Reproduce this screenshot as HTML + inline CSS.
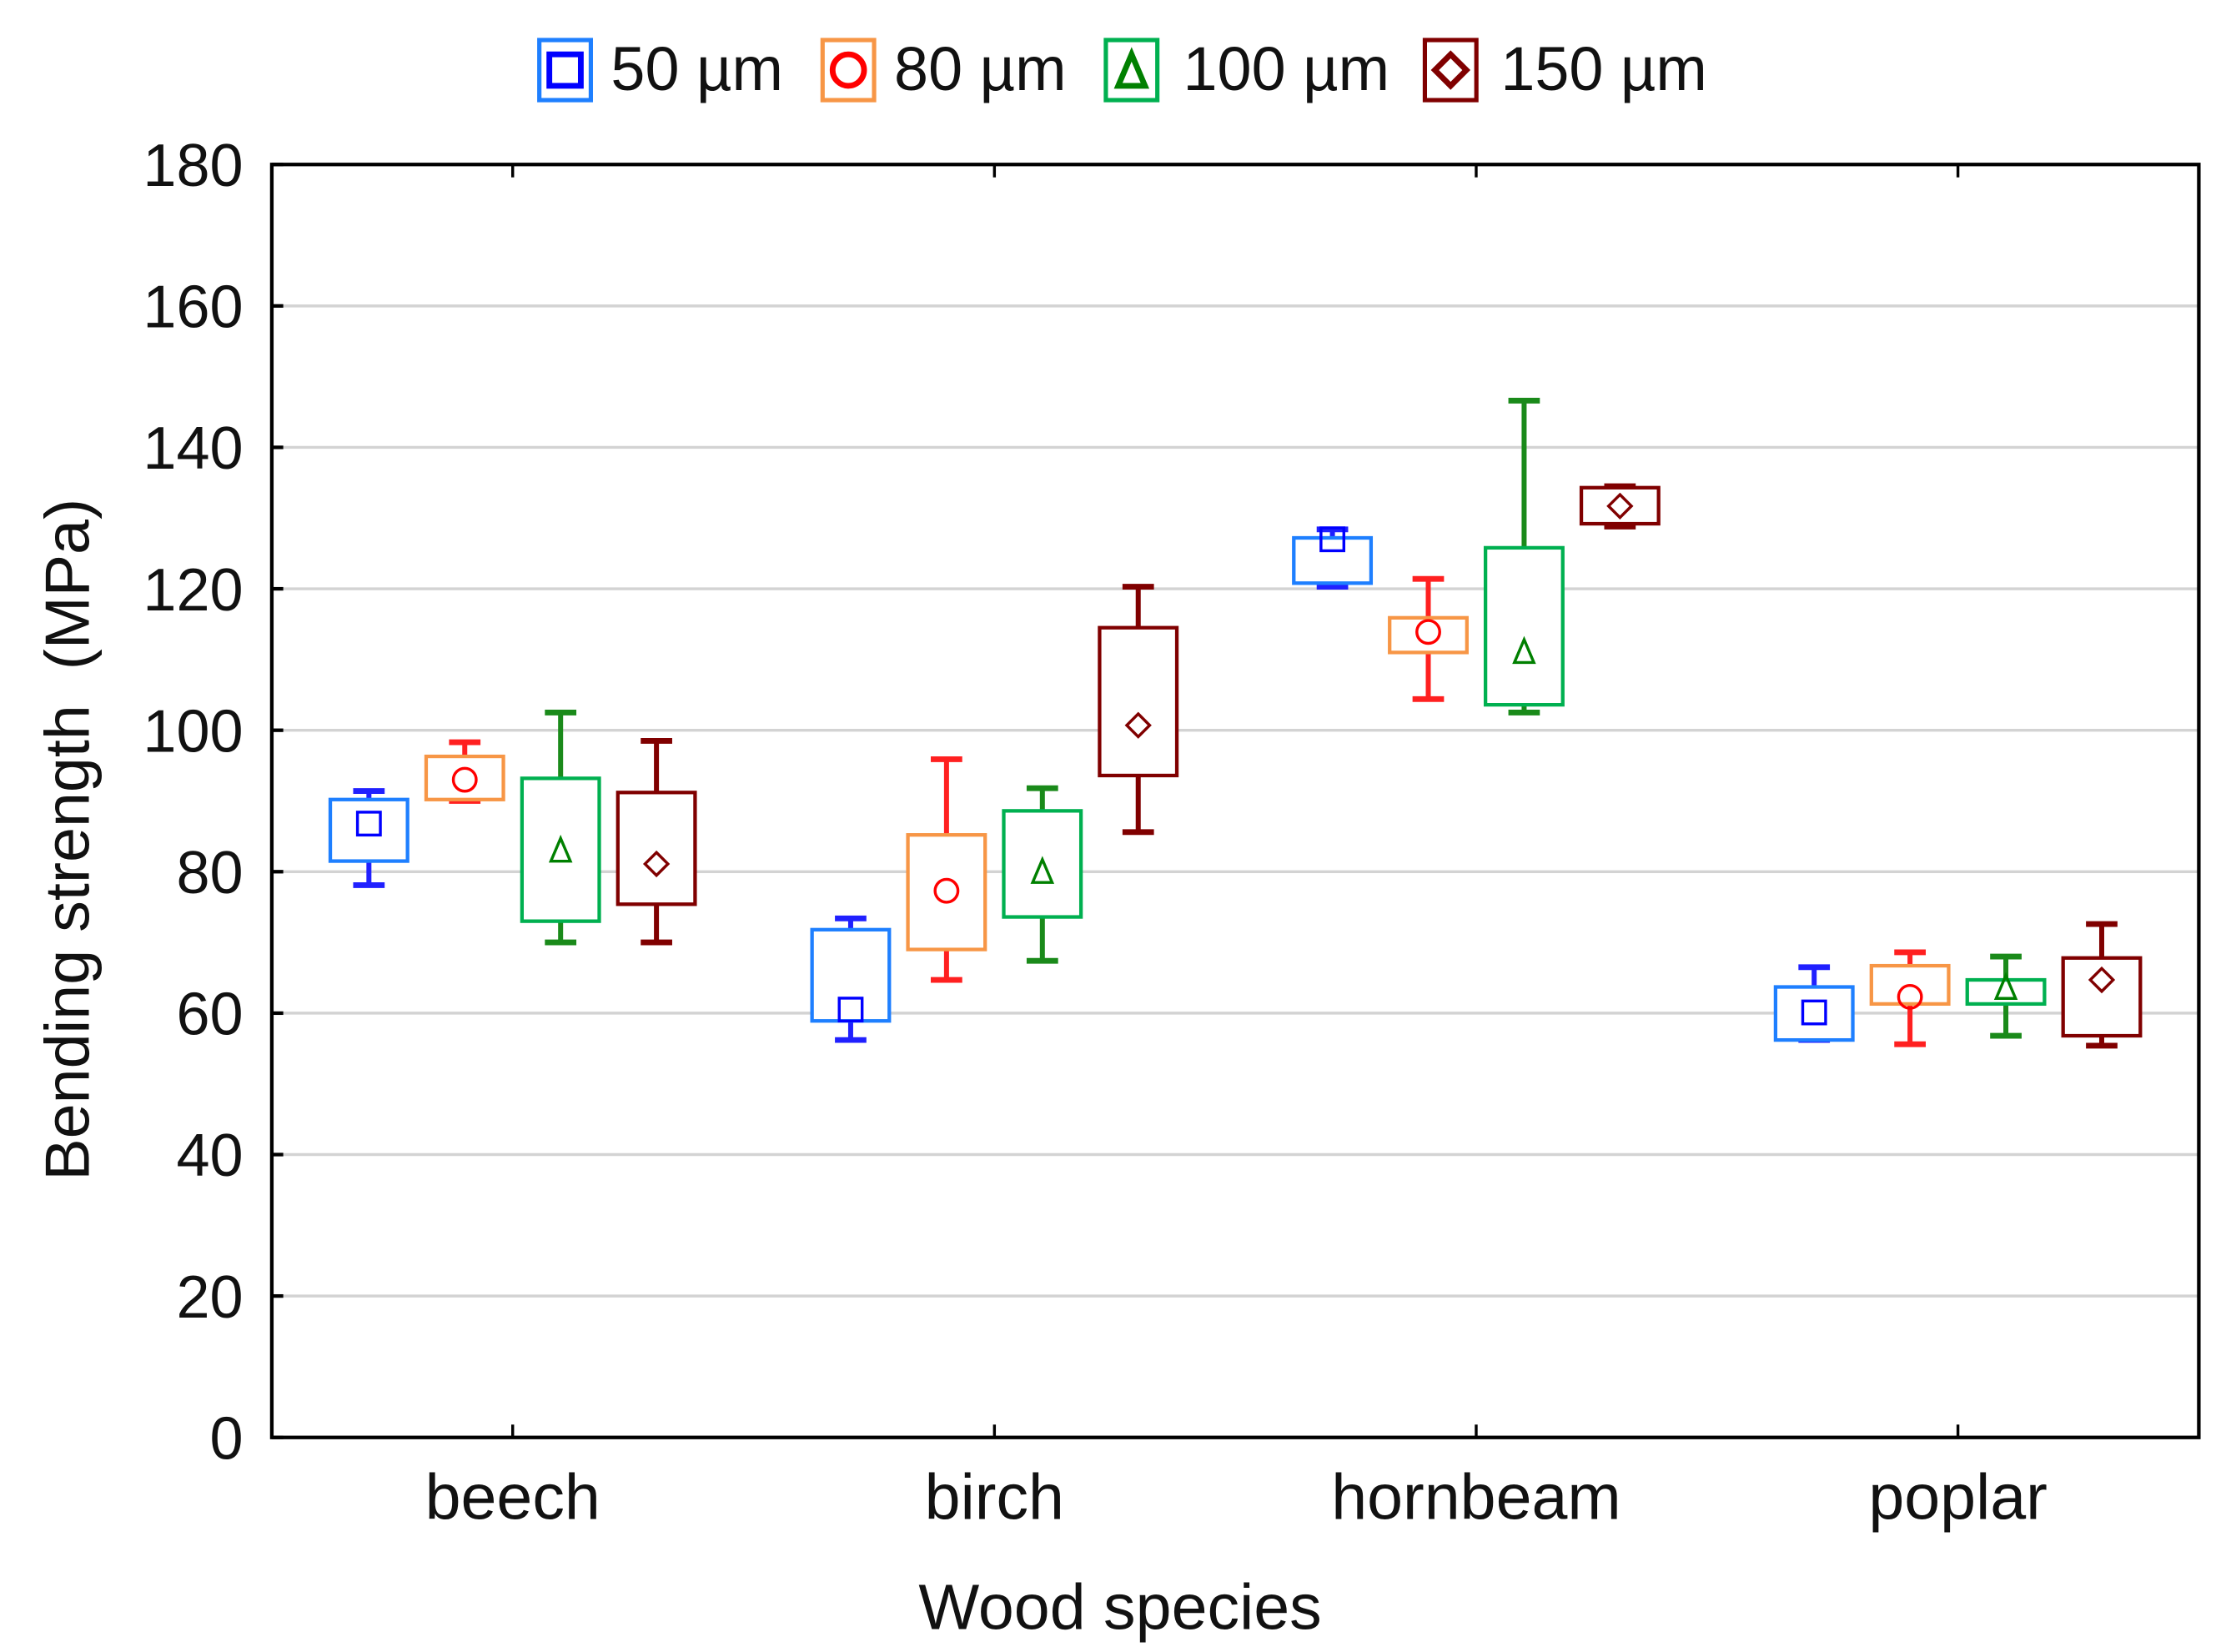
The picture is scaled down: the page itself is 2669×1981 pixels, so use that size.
<!DOCTYPE html>
<html><head><meta charset="utf-8"><style>
html,body{margin:0;padding:0;background:#fff;}
svg{display:block;font-family:"Liberation Sans",Arial,sans-serif;}
</style></head><body>
<svg id="chart" width="2669" height="1981" viewBox="0 0 1556 1155" preserveAspectRatio="none" xmlns="http://www.w3.org/2000/svg">
<g id="legend"></g>
<g id="grid"></g>
<g id="marks"></g>
<rect x="190" y="115" width="1347" height="890" fill="none" stroke="#000" stroke-width="2.5"/>
<g id="axes"></g>
<text x="783" y="1139" font-size="45" text-anchor="middle" fill="#111">Wood species</text>
<text transform="translate(62,587) rotate(-90)" font-size="44" text-anchor="middle" fill="#111" xml:space="preserve">Bending strength  (MPa)</text>
</svg>
<script>
const categories = ["beech","birch","hornbeam","poplar"];
const seriesNames = ["50 µm","80 µm","100 µm","150 µm"];
const yTicks = [0,20,40,60,80,100,120,140,160,180];
const whiskerHigh = [[91.4,73.4,128.4,66.5],[98.3,95.9,121.4,68.6],[102.5,91.8,146.6,68.0],[98.5,120.3,134.5,72.6]];
const whiskerLow  = [[78.1,56.2,120.3,56.2],[90.0,64.7,104.4,55.6],[70.0,67.4,102.5,56.8],[70.0,85.6,128.8,55.4]];
const boxHigh     = [[90.2,71.8,127.2,63.7],[96.3,85.2,115.9,66.7],[93.2,88.6,125.8,64.7],[91.2,114.5,134.3,67.8]];
const boxLow      = [[81.5,58.9,120.8,56.2],[90.2,69.0,111.0,61.3],[73.0,73.6,103.6,61.3],[75.4,93.6,129.2,56.8]];
const means       = [[86.8,60.5,127.0,60.1],[93.0,77.3,113.9,62.3],[83.1,80.1,111.2,63.7],[81.1,100.7,131.7,64.7]];

const boxColors = ["#1e7fff","#f79646","#00b050","#800000"];
const whiskColors = ["#2020ff","#ff2020","#1a8a1a","#800000"];
const markColors = ["#0000ff","#ff0000","#008000","#800000"];
const NS="http://www.w3.org/2000/svg";
const X0=190,X1=1537,Y0=1005,Y1=115;
function y(v){return Y0-(v-0)/(180-0)*(Y0-Y1);}
function xc(i){return X0+(X1-X0)*(i+0.5)/categories.length;}
function xs(i,s){return xc(i)+(s-1.5)*67;}
function mk(parent,tag,attrs){const e=document.createElementNS(NS,tag);for(const k in attrs)e.setAttribute(k,attrs[k]);parent.appendChild(e);return e;}
function marker(g,type,cx,cy,r,col,sw){
  if(type===0)return mk(g,"rect",{x:cx-r,y:cy-r,width:2*r,height:2*r,fill:"none",stroke:col,"stroke-width":sw});
  if(type===1)return mk(g,"circle",{cx:cx,cy:cy,r:r,fill:"none",stroke:col,"stroke-width":sw});
  if(type===2)return mk(g,"polygon",{points:`${cx},${cy-r} ${cx+r*0.85},${cy+r} ${cx-r*0.85},${cy+r}`,fill:"none",stroke:col,"stroke-width":sw});
  return mk(g,"polygon",{points:`${cx},${cy-r} ${cx+r},${cy} ${cx},${cy+r} ${cx-r},${cy}`,fill:"none",stroke:col,"stroke-width":sw});
}
const grid=document.getElementById("grid"),axes=document.getElementById("axes"),marks=document.getElementById("marks"),legend=document.getElementById("legend");
yTicks.forEach(t=>{
  if(t>0&&t<180){const l=mk(grid,"line",{x1:X0,x2:X1,y1:y(t),y2:y(t),stroke:"#d3d3d3","stroke-width":2});
  
  }
  const tk=mk(axes,"line",{x1:X0,x2:X0+8,y1:y(t),y2:y(t),stroke:"#000","stroke-width":2.5});
  
  
  const tx=mk(axes,"text",{x:170,y:y(t)+15,"font-size":42,"text-anchor":"end",fill:"#111"});
  tx.textContent=t;
  
  
});
categories.forEach((c,i)=>{
  [Y0,Y1].forEach(yy=>{const tk=mk(axes,"line",{x1:xc(i),x2:xc(i),y1:yy,y2:yy===Y0?yy-9:yy+9,stroke:"#000","stroke-width":2});
  
  });
  const tx=mk(axes,"text",{x:xc(i),y:1062,"font-size":45,"text-anchor":"middle",fill:"#111"});
  tx.textContent=c;
  
  
  for(let s=0;s<4;s++){
    const g=mk(marks,"g",{});
    
    
    const x=xs(i,s),w=27,cap=11;
    mk(g,"line",{x1:x,x2:x,y1:y(whiskerHigh[s][i]),y2:y(whiskerLow[s][i]),stroke:whiskColors[s],"stroke-width":3.5});
    mk(g,"line",{x1:x-cap,x2:x+cap,y1:y(whiskerHigh[s][i]),y2:y(whiskerHigh[s][i]),stroke:whiskColors[s],"stroke-width":4});
    mk(g,"line",{x1:x-cap,x2:x+cap,y1:y(whiskerLow[s][i]),y2:y(whiskerLow[s][i]),stroke:whiskColors[s],"stroke-width":4});
    mk(g,"rect",{x:x-w,y:y(boxHigh[s][i]),width:2*w,height:y(boxLow[s][i])-y(boxHigh[s][i]),fill:"#fff",stroke:boxColors[s],"stroke-width":2.5});
    marker(g,s,x,y(means[s][i]),8,markColors[s],2);
  }
});
const legX=[395,593,791,1014],legT=[427,625,827,1049];
seriesNames.forEach((n,s)=>{
  const g=mk(legend,"g",{});
  
  
  mk(g,"rect",{x:legX[s]-18,y:28,width:36,height:42,fill:"#fff",stroke:boxColors[s],"stroke-width":3});
  marker(g,s,legX[s],49,11,markColors[s],4);
  const t=mk(g,"text",{x:legT[s],y:63,"font-size":43,fill:"#111"});
  t.textContent=n;
});
</script>
</body></html>
